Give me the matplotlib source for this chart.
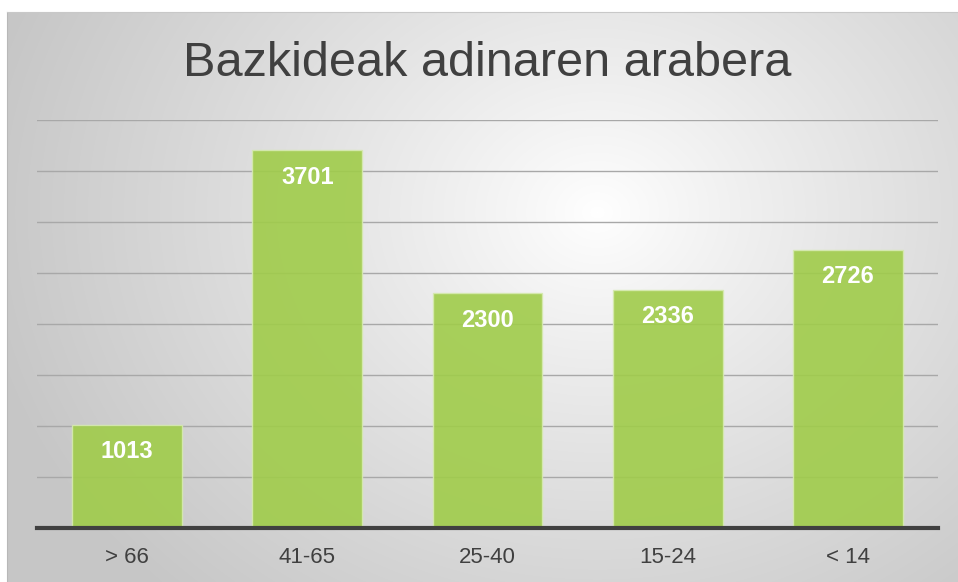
import numpy as np
import matplotlib.pyplot as plt

categories = ['> 66', '41-65', '25-40', '15-24', '< 14']
values = [1013, 3701, 2300, 2336, 2726]
title = 'Bazkideak adinaren arabera'

plt.rcParams['font.family'] = ['Liberation Sans', 'DejaVu Sans']

W, H = 958, 582
fig = plt.figure(figsize=(W / 100, H / 100), dpi=100)

# radial gradient background panel
bg = fig.add_axes([7 / W, 0, (W - 7) / W, (H - 12) / H])
yy, xx = np.mgrid[0:570, 0:951]
cx, cy = 590, 200
r = np.sqrt(((xx - cx) / 620.0) ** 2 + ((yy - cy) / 520.0) ** 2)
shade = 1.0 - 0.22 * np.clip(r, 0, 1.0) ** 0.9
img = np.dstack([shade, shade, shade])
bg.imshow(img, aspect='auto', extent=[0, 1, 0, 1], origin='upper')
bg.set_xticks([])
bg.set_yticks([])
for s in bg.spines.values():
    s.set_visible(False)
bg.spines['left'].set_visible(True)
bg.spines['top'].set_visible(True)
bg.spines['left'].set_color('#b8b8b8')
bg.spines['top'].set_color('#c8c8c8')

ax = fig.add_axes([37 / W, 54 / H, 901 / W, 408 / H])
ax.patch.set_alpha(0)
x = np.arange(len(categories))
bars = ax.bar(x, values, width=0.61, color='#a0cc4a', alpha=0.9,
              edgecolor='#d6eab0', linewidth=1, zorder=3)
ax.set_xlim(-0.5, len(categories) - 0.5)
ax.set_ylim(0, 4000)
ax.set_yticks(np.arange(0, 4001, 500))
ax.yaxis.grid(True, color='#a8a8a8', linewidth=1, zorder=0)
ax.set_axisbelow(True)
ax.tick_params(left=False, labelleft=False, bottom=False)
ax.set_xticks(x)
ax.set_xticklabels(categories, fontsize=16, color='#404040')
ax.tick_params(axis='x', pad=10)
for s in ['left', 'right', 'top']:
    ax.spines[s].set_visible(False)
ax.spines['bottom'].set_color('#404040')
ax.spines['bottom'].set_linewidth(3)
ax.spines['bottom'].set_zorder(5)

for b, v in zip(bars, values):
    ax.annotate(str(v), (b.get_x() + b.get_width() / 2, v), xytext=(0, -27),
                textcoords='offset pixels', ha='center', va='center',
                color='white', fontsize=17, fontweight='bold', zorder=6)

fig.text(487 / W, 1 - 63 / H, title, ha='center', va='center',
         fontsize=35, color='#404040')

fig.savefig('out.png', dpi=100)
